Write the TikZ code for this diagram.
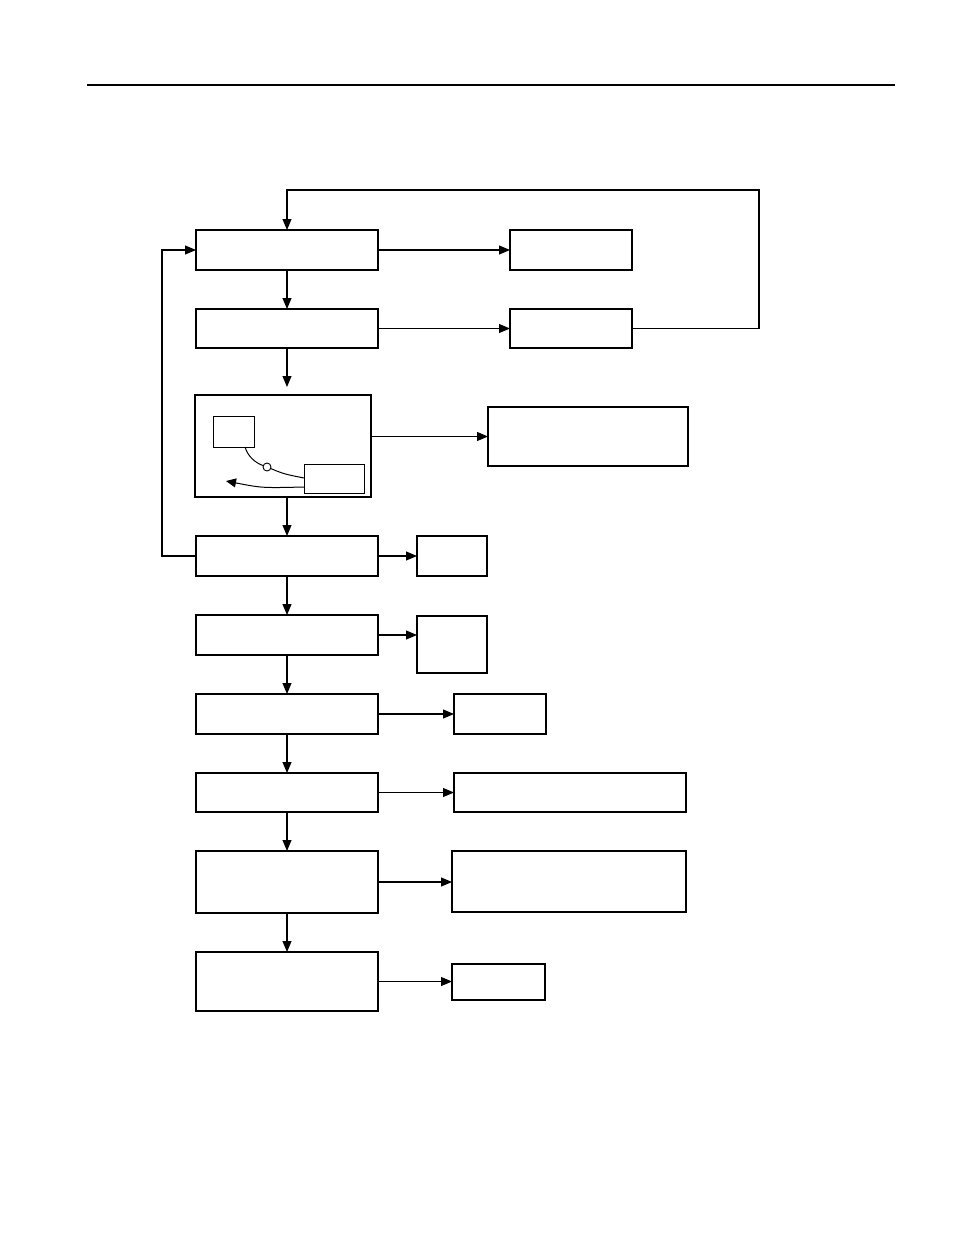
\documentclass[tikz,border=0pt]{standalone}
\usetikzlibrary{arrows.meta,calc}
\begin{document}
\begin{tikzpicture}[x=1pt,y=-1pt,
  box/.style={draw,line width=1.1pt,inner sep=0pt,outer sep=0pt,fill=white},
  conn/.style={line width=1.1pt},
  arr/.style={line width=1.1pt,-{Triangle[width=9pt,length=11pt]}},
  thick edge/.style={line width=2pt}]
\useasboundingbox (0,0) rectangle (954,1235);
\fill[white] (0,0) rectangle (954,1235);
% header line
\coordinate (h1) at (87,85);
\coordinate (h2) at (895,85);
\draw[line width=1.3pt] (h1) -- (h2);
% left column
\node[box,minimum width=182pt,minimum height=40pt] (b1) at (287,250) {};
\node[box,minimum width=182pt,minimum height=39pt] (b2) at (287,328.5) {};
\node[box,minimum width=176pt,minimum height=102pt] (b3) at (283,446) {};
\node[box,minimum width=182pt,minimum height=40pt] (b4) at (287,556) {};
\node[box,minimum width=182pt,minimum height=40pt] (b5) at (287,635) {};
\node[box,minimum width=182pt,minimum height=40pt] (b6) at (287,714) {};
\node[box,minimum width=182pt,minimum height=39pt] (b7) at (287,792.5) {};
\node[box,minimum width=182pt,minimum height=62pt] (b8) at (287,882) {};
\node[box,minimum width=182pt,minimum height=59pt] (b9) at (287,981.5) {};
% right column
\node[box,minimum width=122pt,minimum height=40pt] (r1) at (571,250) {};
\node[box,minimum width=122pt,minimum height=39pt] (r2) at (571,328.5) {};
\node[box,minimum width=200pt,minimum height=59pt] (r3) at (588,436.5) {};
\node[box,minimum width=70pt,minimum height=40pt] (r4) at (452,556) {};
\node[box,minimum width=70pt,minimum height=57pt] (r5) at (452,644.5) {};
\node[box,minimum width=92pt,minimum height=40pt] (r6) at (500,714) {};
\node[box,minimum width=232pt,minimum height=39pt] (r7) at (570,792.5) {};
\node[box,minimum width=234pt,minimum height=61pt] (r8) at (569,881.5) {};
\node[box,minimum width=93pt,minimum height=36pt] (r9) at (498.5,982) {};
% heavier edges
\draw[thick edge] (r6.north east) -- (r6.south east) -- (r6.south west);
\draw[thick edge] (r8.north east) -- (r8.south east);
\draw[thick edge] (r9.south west) -- (r9.south east);
% inner sketch of box 3
\node[box,line width=1pt,minimum width=41pt,minimum height=31pt] (ia) at (233.5,431.5) {};
\node[box,line width=1pt,minimum width=60pt,minimum height=29pt] (ic) at (334,478.5) {};
\node[draw,circle,line width=0.9pt,inner sep=0pt,minimum size=8pt,fill=white] (ci) at (267,467) {};
\coordinate (ia1) at (245,447);
\coordinate (ic1) at (304,478);
\coordinate (ic2) at (304,487);
\coordinate (ia2) at (226,481);
\draw[line width=1pt] (ia1) .. controls (248,457) and (256,463) .. (ci);
\draw[line width=1pt] (ci) .. controls (284,474) .. (ic1);
\draw[line width=1pt,-{Triangle[width=9pt,length=10pt]}] (ic2) .. controls (262,488) .. (ia2);
% horizontal arrows
\draw[arr] (b1.east) -- (b1.east -| r1.west);
\draw[arr] (b2.east) -- (b2.east -| r2.west);
\draw[arr] (r3.west -| b3.east) -- (r3.west);
\draw[arr] (b4.east) -- (b4.east -| r4.west);
\draw[arr] (b5.east) -- (b5.east -| r5.west);
\draw[arr] (b6.east) -- (b6.east -| r6.west);
\draw[arr] (b7.east) -- (b7.east -| r7.west);
\draw[arr] (b8.east) -- (b8.east -| r8.west);
\draw[arr] (b9.east) -- (r9.west |- b9.east);
% vertical arrows
\draw[arr] (b1.south) -- (b2.north);
\draw[arr,shorten >=8pt] (b2.south) -- (b2.south |- b3.north);
\draw[arr] (b3.south -| b4.north) -- (b4.north);
\draw[arr] (b4.south) -- (b5.north);
\draw[arr] (b5.south) -- (b6.north);
\draw[arr] (b6.south) -- (b7.north);
\draw[arr] (b7.south) -- (b8.north);
\draw[arr] (b8.south) -- (b9.north);
% feedback loops
\coordinate (fr) at (759,328.5);
\coordinate (ft) at (759,190);
\draw[arr] (r2.east) -- (fr) -- (ft) -- (ft -| b1.north) -- (b1.north);
\coordinate (fl) at (162,556);
\draw[arr] (b4.west) -- (fl) -- (fl |- b1.west) -- (b1.west);
\end{tikzpicture}
\end{document}
